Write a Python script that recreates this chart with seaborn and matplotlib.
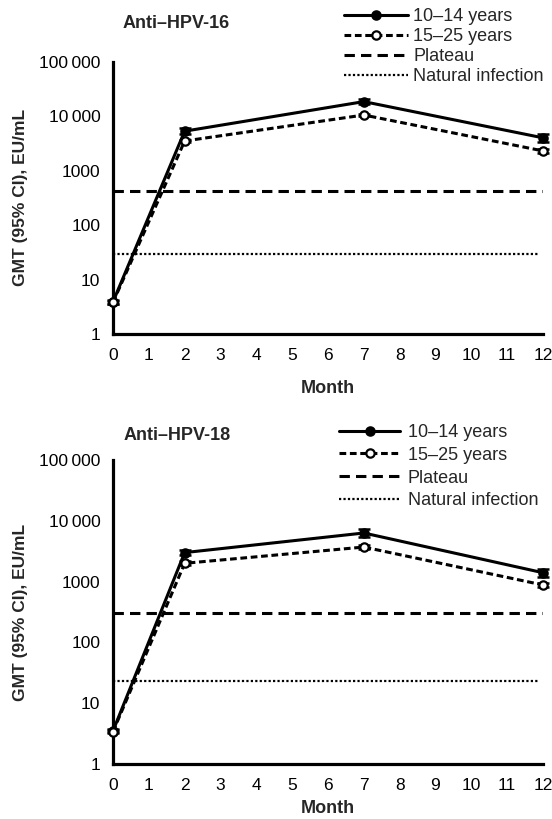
import matplotlib
matplotlib.use("Agg")
import matplotlib.pyplot as plt
from matplotlib.lines import Line2D
from matplotlib.ticker import FixedLocator, NullLocator
import numpy as np
import pandas as pd
import seaborn as sns

sns.set_theme(style="white")
plt.rcParams["font.family"] = ["Liberation Sans", "DejaVu Sans"]

# ---- data -------------------------------------------------------------
months = [0, 2, 7, 12]
groups = ["10\u201314 years", "15\u201325 years"]

# Anti-HPV-16 GMT and 95% CI (EU/mL)
hpv16_gmt_10_14 = [3.9, 5300, 18500, 4000]
hpv16_lo_10_14 = [3.6, 4700, 16500, 3400]
hpv16_hi_10_14 = [4.2, 6000, 20800, 4700]
hpv16_gmt_15_25 = [3.8, 3500, 10500, 2300]
hpv16_lo_15_25 = [3.6, 3300, 10000, 2100]
hpv16_hi_15_25 = [4.0, 3700, 11100, 2500]
hpv16_plateau = 420
hpv16_natural = 30

# Anti-HPV-18 GMT and 95% CI (EU/mL)
hpv18_gmt_10_14 = [3.5, 3000, 6300, 1400]
hpv18_lo_10_14 = [3.3, 2700, 5500, 1200]
hpv18_hi_10_14 = [3.7, 3300, 7200, 1600]
hpv18_gmt_15_25 = [3.4, 2000, 3700, 880]
hpv18_lo_15_25 = [3.2, 1900, 3500, 820]
hpv18_hi_15_25 = [3.6, 2150, 3950, 950]
hpv18_plateau = 310
hpv18_natural = 23

y_ticks = [1, 10, 100, 1000, 10000, 100000]
y_tick_labels = ["1", "10", "100", "1000", "10\u2009000", "100\u2009000"]
x_ticks = list(range(0, 13))

panels = [
    dict(title="Anti\u2013HPV-16",
         series=[(hpv16_gmt_10_14, hpv16_lo_10_14, hpv16_hi_10_14),
                 (hpv16_gmt_15_25, hpv16_lo_15_25, hpv16_hi_15_25)],
         plateau=hpv16_plateau, natural=hpv16_natural),
    dict(title="Anti\u2013HPV-18",
         series=[(hpv18_gmt_10_14, hpv18_lo_10_14, hpv18_hi_10_14),
                 (hpv18_gmt_15_25, hpv18_lo_15_25, hpv18_hi_15_25)],
         plateau=hpv18_plateau, natural=hpv18_natural),
]

# ---- layout -----------------------------------------------------------
W, H = 552, 819
fig = plt.figure(figsize=(W / 100, H / 100), dpi=100)

axes_px = [(113, 61.7, 543, 334), (113, 460, 543, 764)]   # left, top, right, bottom
title_px = [(123, 24), (124, 435)]
# left, top, labelspacing, handlelength, handletextpad
legend_px = [(344, 8, 0.17, 3.55, 0.28), (339, 424, 0.32, 3.4, 0.42)]
xlabel_pad = [12, 5]

LW = 2.2
SPINE = 2.3
FS_TEXT = 13
FS_TICK = 12.5
FS_YLAB = 12.5
series_style = [
    dict(linestyle="-", mfc="black"),
    dict(linestyle=(0, (2.2, 1.2)), mfc="white"),
]
plateau_ls = (0, (3.4, 2.0))
natural_ls = (0, (1.0, 1.0))

for i, p in enumerate(panels):
    l, t, r, b = axes_px[i]
    ax = fig.add_axes([l / W, 1 - b / H, (r - l) / W, (b - t) / H])

    # reference lines
    ax.plot([0, 12], [p["plateau"]] * 2, color="black", lw=LW,
            linestyle=plateau_ls, solid_capstyle="butt", zorder=2)
    ax.plot([0, 11.9], [p["natural"]] * 2, color="black", lw=1.6,
            linestyle=natural_ls, zorder=2)

    # vaccine response curves with 95% CI
    for (gmt, lo, hi), st, grp in zip(p["series"], series_style, groups):
        df = pd.DataFrame({"Month": months, "GMT": gmt})
        sns.lineplot(data=df, x="Month", y="GMT", ax=ax, color="black",
                     lw=LW, linestyle=st["linestyle"], marker="o",
                     markersize=6, markerfacecolor=st["mfc"],
                     markeredgecolor="black", markeredgewidth=1.6,
                     zorder=4, clip_on=False, legend=False)
        yerr = np.array([np.array(gmt) - np.array(lo),
                         np.array(hi) - np.array(gmt)])
        ax.errorbar(months, gmt, yerr=yerr, fmt="none", ecolor="black",
                    elinewidth=1.8, capsize=4, capthick=1.8, zorder=3,
                    clip_on=False)

    ax.set_yscale("log")
    ax.set_ylim(1, 100000)
    ax.set_xlim(0, 12)
    ax.yaxis.set_major_locator(FixedLocator(y_ticks))
    ax.yaxis.set_minor_locator(NullLocator())
    ax.set_yticklabels(y_tick_labels)
    ax.set_xticks(x_ticks)
    ax.set_xticklabels([str(m) for m in x_ticks])

    for side in ("top", "right"):
        ax.spines[side].set_visible(False)
    for side in ("left", "bottom"):
        ax.spines[side].set_linewidth(SPINE)
        ax.spines[side].set_color("black")
    ax.tick_params(axis="both", which="major", direction="out", length=4,
                   width=SPINE, color="black", labelsize=FS_TICK,
                   labelcolor="black")
    ax.tick_params(axis="x", pad=6)
    ax.tick_params(axis="y", pad=5)
    ax.grid(False)
    ax.set_facecolor("white")

    ax.set_xlabel("Month", fontsize=FS_TEXT, fontweight="bold",
                  labelpad=xlabel_pad[i])
    ax.set_ylabel("GMT (95% CI), EU/mL", fontsize=FS_YLAB, fontweight="bold")
    ax.yaxis.set_label_coords(-(l - 28) / (r - l), 0.5)

    tx, ty = title_px[i]
    fig.text(tx / W, 1 - ty / H, p["title"], fontsize=FS_TEXT,
             fontweight="bold", ha="left", va="center")

    handles = [
        Line2D([], [], color="black", lw=LW, linestyle="-", marker="o",
               markersize=6, mfc="black", mec="black", mew=1.6),
        Line2D([], [], color="black", lw=LW, linestyle=series_style[1]["linestyle"],
               marker="o", markersize=6, mfc="white", mec="black", mew=1.6),
        Line2D([], [], color="black", lw=LW, linestyle=plateau_ls),
        Line2D([], [], color="black", lw=1.6, linestyle=natural_ls),
    ]
    lx, ly, lsp, hl, htp = legend_px[i]
    ax.legend(handles, groups + ["Plateau", "Natural infection"],
              loc="upper left", bbox_to_anchor=(lx / W, 1 - ly / H),
              bbox_transform=fig.transFigure, frameon=False,
              fontsize=FS_TEXT, handlelength=hl, handletextpad=htp,
              labelspacing=lsp, borderpad=0, borderaxespad=0,
              markerfirst=True)

fig.savefig("out.png", dpi=100, facecolor="white")
